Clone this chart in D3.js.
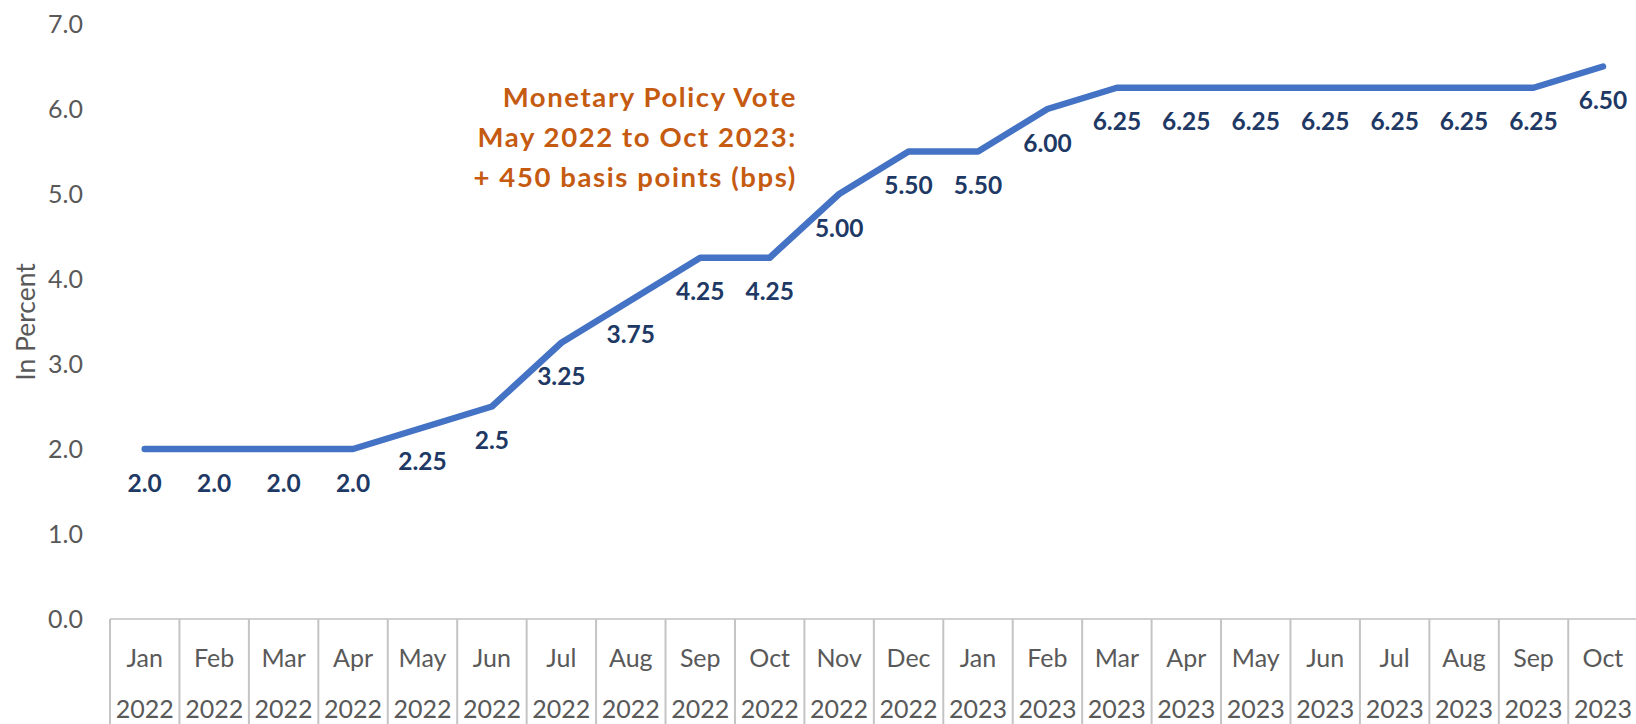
<!DOCTYPE html>
<html>
<head>
<meta charset="utf-8">
<script src="https://cdn.jsdelivr.net/npm/d3@7/dist/d3.min.js"></script>
<style>
  html, body { margin: 0; padding: 0; background: #ffffff; }
  svg { display: block; }
</style>
</head>
<body>
<svg id="chart" width="1636" height="724"></svg>
<script>
// Policy rate by month, Jan 2022 – Oct 2023
const months = ["Jan","Feb","Mar","Apr","May","Jun","Jul","Aug","Sep","Oct","Nov","Dec",
                "Jan","Feb","Mar","Apr","May","Jun","Jul","Aug","Sep","Oct"];
const years = ["2022","2022","2022","2022","2022","2022","2022","2022","2022","2022","2022","2022",
               "2023","2023","2023","2023","2023","2023","2023","2023","2023","2023"];
const rateLabels = ["2.0","2.0","2.0","2.0","2.25","2.5","3.25","3.75","4.25","4.25","5.00","5.50",
                    "5.50","6.00","6.25","6.25","6.25","6.25","6.25","6.25","6.25","6.50"];
const policyRate = [2.0,2.0,2.0,2.0,2.25,2.5,3.25,3.75,4.25,4.25,5.00,5.50,
                    5.50,6.00,6.25,6.25,6.25,6.25,6.25,6.25,6.25,6.50];
const yTicks = [0,1,2,3,4,5,6,7];
const axisTitle = "In Percent";
const noteLines = ["Monetary Policy Vote", "May 2022 to Oct 2023:", "+ 450 basis points (bps)"];

const svg = d3.select("#chart");
const FONT = "Lato, 'Open Sans', 'DejaVu Sans', sans-serif";

const plotLeft = 110, bandW = 69.44, plotTop = 24, plotBottom = 619;
const idx = d3.range(months.length);

const x = d3.scaleBand().domain(idx).range([plotLeft, plotLeft + bandW * months.length]).padding(0);
const y = d3.scaleLinear().domain([0, 7]).range([plotBottom, plotTop]);

// Value axis labels (no line, no gridlines)
const yAxis = d3.axisLeft(y).tickValues(yTicks).tickFormat(d3.format(".1f")).tickSize(0).tickPadding(27);
const gy = svg.append("g").attr("transform", `translate(${plotLeft},0)`).call(yAxis);
gy.select(".domain").remove();
gy.selectAll("text")
  .attr("font-family", FONT).attr("font-size", 25).attr("fill", "#595959");

// Axis title
svg.append("text")
  .attr("transform", `translate(25,322) rotate(-90)`)
  .attr("text-anchor", "middle").attr("dominant-baseline", "central")
  .attr("font-family", FONT).attr("font-size", 26.5).attr("fill", "#595959")
  .text(axisTitle);

// Two-level category axis
const gx = svg.append("g");
gx.append("line")
  .attr("x1", x(0)).attr("x2", x(idx.length - 1) + bandW)
  .attr("y1", plotBottom).attr("y2", plotBottom)
  .attr("stroke", "#d0d0d0").attr("stroke-width", 2);
gx.selectAll("line.div").data(idx.concat([idx.length])).join("line")
  .attr("class", "div")
  .attr("x1", d => plotLeft + d * x.bandwidth()).attr("x2", d => plotLeft + d * x.bandwidth())
  .attr("y1", plotBottom).attr("y2", 724)
  .attr("stroke", "#c4c4c4").attr("stroke-width", 2);
gx.selectAll("text.m").data(idx).join("text")
  .attr("class", "m")
  .attr("x", d => x(d) + x.bandwidth() / 2).attr("y", 657)
  .attr("text-anchor", "middle").attr("dominant-baseline", "central")
  .attr("font-family", FONT).attr("font-size", 25).attr("fill", "#595959")
  .text(d => months[d]);
gx.selectAll("text.yr").data(idx).join("text")
  .attr("class", "yr")
  .attr("x", d => x(d) + x.bandwidth() / 2).attr("y", 708)
  .attr("text-anchor", "middle").attr("dominant-baseline", "central")
  .attr("font-family", FONT).attr("font-size", 25).attr("fill", "#595959")
  .text(d => years[d]);

// Rate line
const line = d3.line()
  .x((d, i) => x(i) + x.bandwidth() / 2)
  .y(d => y(d));
svg.append("path")
  .datum(policyRate)
  .attr("d", line)
  .attr("fill", "none")
  .attr("stroke", "#4472c4")
  .attr("stroke-width", 6.5)
  .attr("stroke-linecap", "round")
  .attr("stroke-linejoin", "round");

// Point labels below each point
svg.append("g").selectAll("text").data(idx).join("text")
  .attr("x", i => x(i) + x.bandwidth() / 2)
  .attr("y", i => y(policyRate[i]) + 33)
  .attr("text-anchor", "middle").attr("dominant-baseline", "central")
  .attr("font-family", FONT).attr("font-size", 24.5).attr("font-weight", 700)
  .attr("fill", "#203864")
  .text(i => rateLabels[i]);

// Annotation
svg.append("g").selectAll("text").data(noteLines).join("text")
  .attr("x", 797).attr("y", (d, i) => 107 + i * 40)
  .attr("text-anchor", "end")
  .attr("font-family", FONT).attr("font-size", 27.5).attr("font-weight", 700)
  .attr("letter-spacing", 1.6)
  .attr("fill", "#c55a11")
  .text(d => d);
</script>
</body>
</html>
